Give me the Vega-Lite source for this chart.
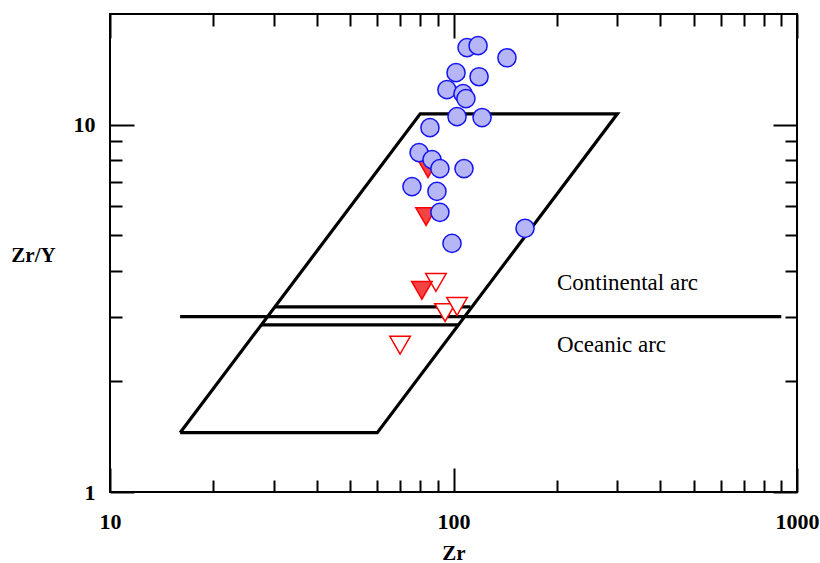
{
  "$schema": "https://vega.github.io/schema/vega-lite/v6.json",
  "width": 687,
  "height": 478,
  "autosize": {"type": "none"},
  "padding": {"left": 110, "top": 14, "right": 23, "bottom": 71},
  "background": "white",
  "config": {
    "view": {"stroke": "black", "strokeWidth": 2},
    "axis": {"domain": false, "grid": false, "tickColor": "black", "tickWidth": 2, "labelColor": "black", "labelFont": "Liberation Serif", "labelFontWeight": "bold", "labelFontSize": 22, "titleFont": "Liberation Serif", "titleFontWeight": "bold", "titleFontSize": 21, "titleColor": "black", "labelFlush": false, "labelOverlap": false}
  },
  "resolve": {"axis": {"x": "independent", "y": "independent"}},
  "layer": [
    {
      "data": {"values": [
        {"zr": 16, "zry": 1.45, "o": 1},
        {"zr": 60, "zry": 1.45, "o": 2},
        {"zr": 300, "zry": 10.7, "o": 3},
        {"zr": 80, "zry": 10.7, "o": 4},
        {"zr": 16, "zry": 1.45, "o": 5}
      ]},
      "mark": {"type": "line", "color": "black", "strokeWidth": 3.2, "strokeJoin": "miter"},
      "encoding": {
        "x": {"field": "zr", "type": "quantitative", "scale": {"type": "log", "domain": [10, 1000], "nice": false}, "axis": {"orient": "bottom", "values": [10, 100, 1000], "format": "d", "tickSize": -24, "labelPadding": 43, "title": "Zr", "titleX": 343.5, "titleY": 50, "titleBaseline": "top"}},
        "y": {"field": "zry", "type": "quantitative", "scale": {"type": "log", "domain": [1, 20], "nice": false}, "axis": {"orient": "left", "values": [1, 10], "format": "d", "tickSize": -24, "labelPadding": 39, "title": "Zr/Y", "titleAngle": 0, "titleX": -77, "titleY": 241, "titleAlign": "center", "titleBaseline": "middle"}},
        "order": {"field": "o", "type": "quantitative"}
      }
    },
    {
      "data": {"values": [
        {"zr": 16, "zr2": 900, "zry": 3},
        {"zr": 30.2, "zr2": 112, "zry": 3.19},
        {"zr": 27.6, "zr2": 103.5, "zry": 2.85}
      ]},
      "mark": {"type": "rule", "color": "black", "strokeWidth": 3.2},
      "encoding": {
        "x": {"field": "zr", "type": "quantitative", "axis": {"orient": "bottom", "values": [20, 30, 40, 50, 60, 70, 80, 90, 200, 300, 400, 500, 600, 700, 800, 900], "tickSize": -12, "labels": false, "title": null}},
        "x2": {"field": "zr2"},
        "y": {"field": "zry", "type": "quantitative", "axis": {"orient": "left", "values": [2, 3, 4, 5, 6, 7, 8, 9], "tickSize": -12, "labels": false, "title": null}}
      }
    },
    {
      "data": {"values": [
        {"zr": 88.9, "zry": 3.72, "group": "open"},
        {"zr": 94.5, "zry": 3.08, "group": "open"},
        {"zr": 102.4, "zry": 3.2, "group": "open"},
        {"zr": 69.9, "zry": 2.51, "group": "open"},
        {"zr": 84.3, "zry": 7.59, "group": "filled"},
        {"zr": 83.2, "zry": 5.62, "group": "filled"},
        {"zr": 80.9, "zry": 3.54, "group": "filled"}
      ]},
      "mark": {"type": "point", "shape": "triangle-down", "size": 420, "stroke": "#ff0000", "strokeWidth": 1.5, "filled": false, "opacity": 1},
      "encoding": {
        "x": {"field": "zr", "type": "quantitative", "axis": {"orient": "top", "values": [10, 100, 1000], "tickSize": -24, "labels": false, "title": null}},
        "y": {"field": "zry", "type": "quantitative", "axis": {"orient": "right", "values": [1, 10], "tickSize": -24, "labels": false, "title": null}},
        "fill": {"field": "group", "type": "nominal", "scale": {"domain": ["open", "filled"], "range": ["white", "#f24444"]}, "legend": null}
      }
    },
    {
      "data": {"values": [
        {"zr": 109.5, "zry": 16.2},
        {"zr": 117.9, "zry": 16.4},
        {"zr": 143.1, "zry": 15.2},
        {"zr": 101.7, "zry": 13.85},
        {"zr": 118.7, "zry": 13.5},
        {"zr": 95.7, "zry": 12.45},
        {"zr": 106.6, "zry": 12.14},
        {"zr": 108.7, "zry": 11.77},
        {"zr": 102.4, "zry": 10.51},
        {"zr": 121.1, "zry": 10.45},
        {"zr": 85.4, "zry": 9.81},
        {"zr": 79.4, "zry": 8.39},
        {"zr": 86.6, "zry": 8.03},
        {"zr": 91.3, "zry": 7.59},
        {"zr": 107.3, "zry": 7.59},
        {"zr": 75.7, "zry": 6.78},
        {"zr": 89.5, "zry": 6.58},
        {"zr": 91.3, "zry": 5.77},
        {"zr": 99.0, "zry": 4.75},
        {"zr": 161.5, "zry": 5.22}
      ]},
      "mark": {"type": "point", "shape": "circle", "size": 330, "filled": true, "fill": "#b6b6f7", "stroke": "#1414f0", "strokeWidth": 1.5, "opacity": 1, "fillOpacity": 1},
      "encoding": {
        "x": {"field": "zr", "type": "quantitative", "axis": {"orient": "top", "values": [20, 30, 40, 50, 60, 70, 80, 90, 200, 300, 400, 500, 600, 700, 800, 900], "tickSize": -12, "labels": false, "title": null}},
        "y": {"field": "zry", "type": "quantitative", "axis": {"orient": "right", "values": [2, 3, 4, 5, 6, 7, 8, 9], "tickSize": -12, "labels": false, "title": null}}
      }
    },
    {
      "data": {"values": [
        {"zr": 200, "zry": 3.7, "label": "Continental arc"},
        {"zr": 200, "zry": 2.52, "label": "Oceanic arc"}
      ]},
      "mark": {"type": "text", "align": "left", "baseline": "middle", "font": "Liberation Serif", "fontSize": 23, "color": "black"},
      "encoding": {
        "x": {"field": "zr", "type": "quantitative", "axis": null},
        "y": {"field": "zry", "type": "quantitative", "axis": null},
        "text": {"field": "label"}
      }
    }
  ]
}
